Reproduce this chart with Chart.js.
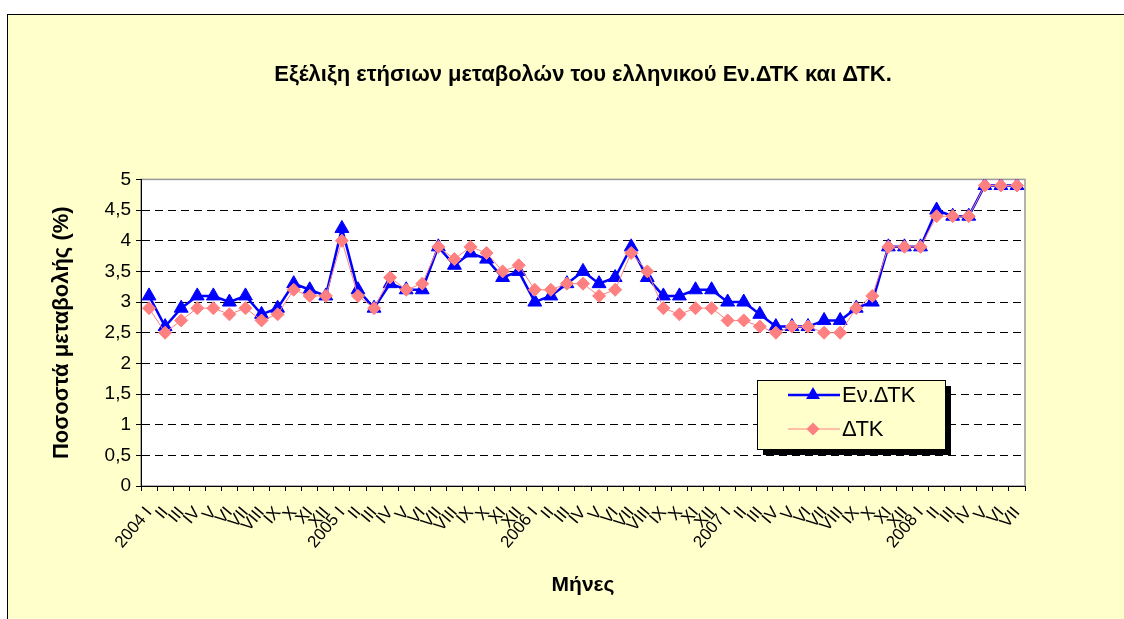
<!DOCTYPE html>
<html>
<head>
<meta charset="utf-8">
<script src="https://cdn.jsdelivr.net/npm/chart.js@4.4.1/dist/chart.umd.min.js"></script>
<style>
  html, body { margin: 0; padding: 0; background: #fff; overflow: hidden; }
  #frame {
    position: absolute; left: 7px; top: 14px; width: 1200px; height: 700px;
    background: #FFFFCC; border-left: 1px solid #000; border-top: 1px solid #000;
  }
  #myChart { position: absolute; left: 0; top: 0; }
</style>
</head>
<body>
<div id="frame"></div>
<canvas id="myChart" width="1124" height="619"></canvas>
<script>
// data
const years = ['2004', '2005', '2006', '2007', '2008'];
const months = ['I', 'II', 'III', 'IV', 'V', 'VI', 'VII', 'VIII', 'IX', 'X', 'XI', 'XII'];

const evDtk = [
  3.1, 2.6, 2.9, 3.1, 3.1, 3.0, 3.1, 2.8, 2.9, 3.3, 3.2, 3.1,
  4.2, 3.2, 2.9, 3.3, 3.2, 3.2, 3.9, 3.6, 3.8, 3.7, 3.4, 3.5,
  3.0, 3.1, 3.3, 3.5, 3.3, 3.4, 3.9, 3.4, 3.1, 3.1, 3.2, 3.2,
  3.0, 3.0, 2.8, 2.6, 2.6, 2.6, 2.7, 2.7, 2.9, 3.0, 3.9, 3.9,
  3.9, 4.5, 4.4, 4.4, 4.9, 4.9, 4.9
];
const dtk = [
  2.9, 2.5, 2.7, 2.9, 2.9, 2.8, 2.9, 2.7, 2.8, 3.2, 3.1, 3.1,
  4.0, 3.1, 2.9, 3.4, 3.2, 3.3, 3.9, 3.7, 3.9, 3.8, 3.5, 3.6,
  3.2, 3.2, 3.3, 3.3, 3.1, 3.2, 3.8, 3.5, 2.9, 2.8, 2.9, 2.9,
  2.7, 2.7, 2.6, 2.5, 2.6, 2.6, 2.5, 2.5, 2.9, 3.1, 3.9, 3.9,
  3.9, 4.4, 4.4, 4.4, 4.9, 4.9, 4.9
];

let labels = [];
for (let i = 0; i < evDtk.length; i++) {
  const m = months[i % 12];
  labels.push(m === 'I' ? years[Math.floor(i / 12)] + ' I' : m);
}

const font = 'Liberation Sans, Arial, sans-serif';

// white plot area with grey frame
const plotBg = {
  id: 'plotBg',
  beforeDraw(chart) {
    const a = chart.chartArea;
    const ctx = chart.ctx;
    ctx.save();
    ctx.fillStyle = '#fff';
    ctx.fillRect(a.left, a.top, a.right - a.left, a.bottom - a.top);
    ctx.strokeStyle = '#9a9a9a';
    ctx.lineWidth = 1.5;
    ctx.strokeRect(a.left, a.top, a.right - a.left, a.bottom - a.top);
    ctx.restore();
  }
};

// excel style legend box with shadow
const legendBox = {
  id: 'legendBox',
  afterDraw(chart) {
    const ctx = chart.ctx;
    ctx.save();
    ctx.fillStyle = '#000';
    ctx.fillRect(763, 386, 188, 69);
    ctx.fillStyle = '#FFFFCC';
    ctx.fillRect(757, 380, 188, 69);
    ctx.strokeStyle = '#000';
    ctx.lineWidth = 1;
    ctx.strokeRect(757.5, 380.5, 188, 69);

    chart.data.datasets.forEach((ds, i) => {
      const y = 395 + i * 34;
      ctx.strokeStyle = ds.borderColor;
      ctx.lineWidth = ds.borderWidth;
      ctx.beginPath();
      ctx.moveTo(788, y);
      ctx.lineTo(840, y);
      ctx.stroke();
      ctx.fillStyle = ds.borderColor;
      ctx.beginPath();
      const r = ds.pointRadius;
      if (ds.pointStyle === 'triangle') {
        ctx.moveTo(813, y - r);
        ctx.lineTo(813 + r * 0.866, y + r / 2);
        ctx.lineTo(813 - r * 0.866, y + r / 2);
      } else {
        ctx.moveTo(813, y - r);
        ctx.lineTo(813 + r, y);
        ctx.lineTo(813, y + r);
        ctx.lineTo(813 - r, y);
      }
      ctx.closePath();
      ctx.fill();
      ctx.fillStyle = '#000';
      ctx.font = '22px ' + font;
      ctx.textBaseline = 'middle';
      ctx.fillText(ds.label, 842, y + 1);
    });
    ctx.restore();
  }
};

const ctx = document.getElementById('myChart');

new Chart(ctx, {
  type: 'line',
  data: {
    labels: labels,
    datasets: [{
      label: 'Εν.ΔΤΚ',
      data: evDtk,
      borderColor: '#0000FF',
      backgroundColor: '#0000FF',
      borderWidth: 2.5,
      pointStyle: 'triangle',
      pointRadius: 8,
      pointBorderWidth: 1,
      tension: 0,
      order: 1
    }, {
      label: 'ΔΤΚ',
      data: dtk,
      borderColor: '#FF8080',
      backgroundColor: '#FF8080',
      borderWidth: 1,
      pointStyle: 'rectRot',
      pointRadius: 6.5,
      pointBorderWidth: 1,
      tension: 0,
      order: 0
    }]
  },
  options: {
    responsive: false,
    devicePixelRatio: 1,
    animation: false,
    layout: { padding: { left: 0, right: 99, top: 0, bottom: 0 } },
    plugins: {
      legend: { display: false },
      tooltip: { enabled: false },
      title: {
        display: true,
        fullSize: false,
        text: 'Εξέλιξη ετήσιων μεταβολών του ελληνικού Εν.ΔΤΚ και ΔΤΚ.',
        color: '#000',
        font: { family: font, size: 22, weight: 'bold' },
        padding: { top: 62, bottom: 91 }
      }
    },
    scales: {
      x: {
        offset: true,
        afterFit: (scale) => { scale.height = 133; },
        grid: {
          offset: true,
          drawOnChartArea: false,
          tickLength: 5,
          tickColor: '#000'
        },
        border: { color: '#000', width: 1 },
        ticks: {
          autoSkip: false,
          minRotation: 50,
          maxRotation: 50,
          padding: 12,
          color: '#000',
          font: { family: font, size: 17 }
        },
        title: {
          display: true,
          text: 'Μήνες',
          color: '#000',
          font: { family: font, size: 21, weight: 'bold' },
          padding: { top: 0, bottom: 21 }
        }
      },
      y: {
        min: 0,
        max: 5,
        afterFit: (scale) => { scale.width = 141; },
        grid: {
          color: (c) => (c.tick && (c.tick.value === 0 || c.tick.value === 5)) ? 'rgba(0,0,0,0)' : '#000',
          tickColor: '#000',
          tickLength: 5,
          lineWidth: 1
        },
        border: { color: '#000', width: 1, dash: [8, 5] },
        ticks: {
          stepSize: 0.5,
          padding: 5,
          color: '#000',
          font: { family: font, size: 19 },
          callback: (v) => String(v).replace('.', ',')
        },
        title: {
          display: true,
          text: 'Ποσοστά μεταβολής (%)',
          color: '#000',
          font: { family: font, size: 22, weight: 'bold' },
          padding: { top: 49, bottom: 0 }
        }
      }
    }
  },
  plugins: [plotBg, legendBox]
});
</script>
</body>
</html>
